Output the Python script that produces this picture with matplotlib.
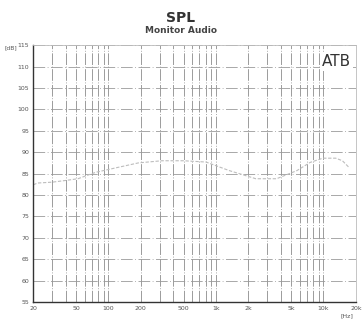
import matplotlib
matplotlib.use("Agg")
import matplotlib.pyplot as plt
import numpy as np

# SPL curve
freq_hz = [20, 22, 30, 40, 52, 76, 125, 190, 314, 500, 808, 1330, 2350, 3660, 5660, 7500, 9860, 13000, 15000, 17500]
spl_db = [82.4, 82.8, 83.0, 83.4, 83.8, 85.3, 86.5, 87.5, 88.0, 88.0, 87.7, 85.7, 83.8, 83.8, 85.7, 87.6, 88.6, 88.6, 88.0, 86.3]

x_ticks = [20, 50, 100, 200, 500, 1000, 2000, 5000, 10000, 20000]
x_labels = ["20", "50", "100", "200", "500", "1k", "2k", "5k", "10k", "20k"]
y_ticks = list(range(55, 116, 5))

fig = plt.figure(figsize=(3.62, 3.2), dpi=100)
ax = fig.add_axes([0.092, 0.056, 0.891, 0.803])

ax.plot(freq_hz, spl_db, color="#bdbdbd", lw=0.8, ls=(0, (3, 1.5)))

ax.set_xscale("log")
ax.set_xlim(20, 20000)
ax.set_ylim(55, 115)
ax.set_xticks(x_ticks)
ax.set_xticklabels(x_labels)
ax.set_yticks(y_ticks)
ax.xaxis.set_minor_locator(matplotlib.ticker.LogLocator(base=10, subs=np.arange(2, 10)))
ax.xaxis.set_minor_formatter(matplotlib.ticker.NullFormatter())
ax.tick_params(axis="both", which="both", length=0, labelsize=4.5, colors="#555555", pad=3)

ax.grid(True, which="both", axis="x", color="#8c8c8c", lw=0.6, ls=(0, (14, 2, 1, 2)))
ax.grid(True, which="major", axis="y", color="#9a9a9a", lw=0.6, ls=(0, (14, 3, 1, 3)))
ax.set_axisbelow(True)

for s in ["top", "right"]:
    ax.spines[s].set_color("#bbbbbb")
    ax.spines[s].set_linewidth(0.6)
for s in ["left", "bottom"]:
    ax.spines[s].set_color("#333333")
    ax.spines[s].set_linewidth(1.0)

fig.text(0.5, 0.945, "SPL", ha="center", va="center", fontsize=10, fontweight="bold", color="#333333")
fig.text(0.5, 0.905, "Monitor Audio", ha="center", va="center", fontsize=6.5, fontweight="bold", color="#444444")
fig.text(0.012, 0.852, "[dB]", ha="left", va="center", fontsize=4.3, color="#555555")
fig.text(0.975, 0.005, "[Hz]", ha="right", va="bottom", fontsize=4.5, color="#555555")

ax.text(0.985, 0.965, "ATB", transform=ax.transAxes, ha="right", va="top", fontsize=11,
        color="#333333", bbox=dict(facecolor="white", edgecolor="none", pad=1.5))

fig.savefig("out.png", dpi=100, facecolor="white")
